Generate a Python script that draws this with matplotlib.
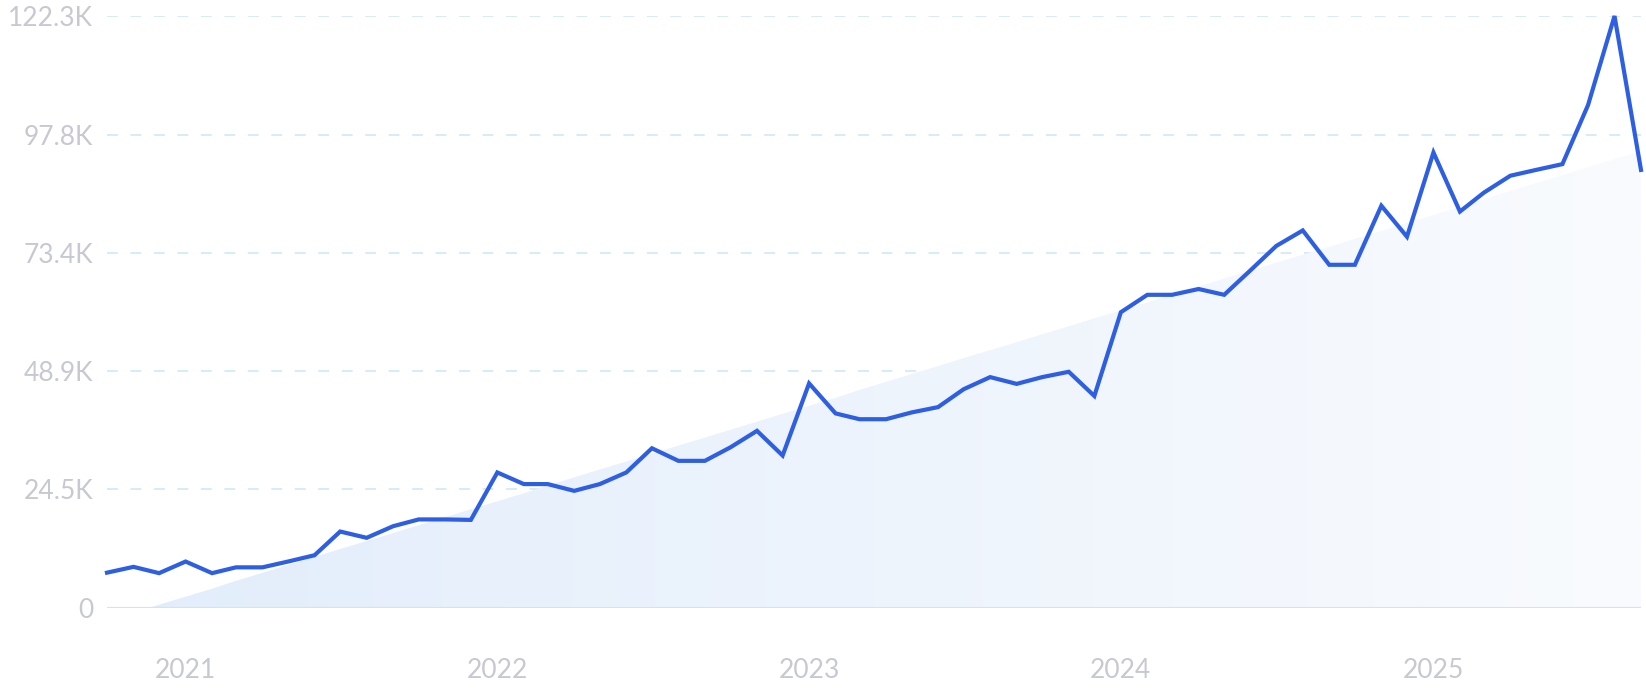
import numpy as np
import pandas as pd
import matplotlib
matplotlib.use("Agg")
import matplotlib.pyplot as plt
import matplotlib.dates as mdates
from matplotlib.colors import LinearSegmentedColormap

# monthly values in thousands, Oct 2020 .. Sep 2025
months = pd.date_range("2020-10-01", "2025-09-01", freq="MS")
values_2020 = [7.3, 8.5, 7.2]
values_2021 = [9.6, 7.2, 8.4, 8.4, 9.6, 10.9, 15.8, 14.5, 16.9, 18.3, 18.3, 18.2]
values_2022 = [28.0, 25.6, 25.6, 24.2, 25.6, 28.0, 33.0, 30.4, 30.4, 33.2, 36.6, 31.5]
values_2023 = [46.4, 40.2, 39.0, 39.0, 40.4, 41.5, 45.2, 47.7, 46.3, 47.7, 48.8, 43.8]
values_2024 = [61.1, 64.7, 64.7, 65.9, 64.7, 69.8, 74.8, 78.0, 70.9, 70.9, 83.1, 76.7]
values_2025 = [94.1, 81.9, 85.8, 89.3, 90.5, 91.7, 103.9, 122.3, 90.5]

y_ticks = [0, 24.5, 48.9, 73.4, 97.8, 122.3]
y_labels = ["0", "24.5K", "48.9K", "73.4K", "97.8K", "122.3K"]
year_ticks = ["2021", "2022", "2023", "2024", "2025"]

values = np.array(values_2020 + values_2021 + values_2022 + values_2023
                  + values_2024 + values_2025)

plt.rcParams["font.family"] = ["Lato", "DejaVu Sans"]

fig = plt.figure(figsize=(16.46, 7.0), dpi=100)
ax = fig.add_axes([107 / 1646, 1 - 608 / 700, (1641 - 107) / 1646, (608 - 16) / 700])

x_num = mdates.date2num(months)

# linear trend, clipped at zero, drawn as a gradient area
idx = np.arange(len(values))
slope, intercept = np.polyfit(idx, values, 1)
fine_idx = np.linspace(0, len(values) - 1, 600)
fine_x = np.interp(fine_idx, idx, x_num)
trend = np.clip(slope * fine_idx + intercept, 0, None)

poly = ax.fill_between(fine_x, 0, trend, color="none", lw=0)
cmap = LinearSegmentedColormap.from_list("trend", ["#e2edfb", "#f9fbfe"], N=1024)
grad = np.linspace(0, 1, 1024).reshape(1, -1)
img = ax.imshow(grad, cmap=cmap, aspect="auto", origin="lower",
                extent=[x_num[0], x_num[-1], 0, 122.3], zorder=1,
                interpolation="bilinear")
img.set_clip_path(poly.get_paths()[0], transform=ax.transData)

# grid lines
for t in y_ticks[1:]:
    ax.axhline(t, color="#d3eaf6", lw=1.3, dashes=(6, 7), zorder=0)
ax.axhline(0, color="#cbe6f6", lw=1.5, zorder=2)

ax.plot(months, values, color="#2e5fe3", lw=3.0, solid_joinstyle="miter",
        zorder=3, clip_on=False)

ax.set_xlim(x_num[0], x_num[-1])
ax.set_ylim(0, 122.3)

ax.set_yticks(y_ticks)
ax.set_yticklabels(y_labels)
ax.set_xticks([mdates.date2num(pd.Timestamp(y + "-01-01")) for y in year_ticks])
ax.set_xticklabels(year_ticks)

ax.tick_params(axis="both", length=0, labelsize=19, labelcolor="#c6c9d0")
ax.tick_params(axis="y", pad=10)
ax.tick_params(axis="x", pad=36)

for s in ax.spines.values():
    s.set_visible(False)

fig.savefig("out.png", dpi=100)
